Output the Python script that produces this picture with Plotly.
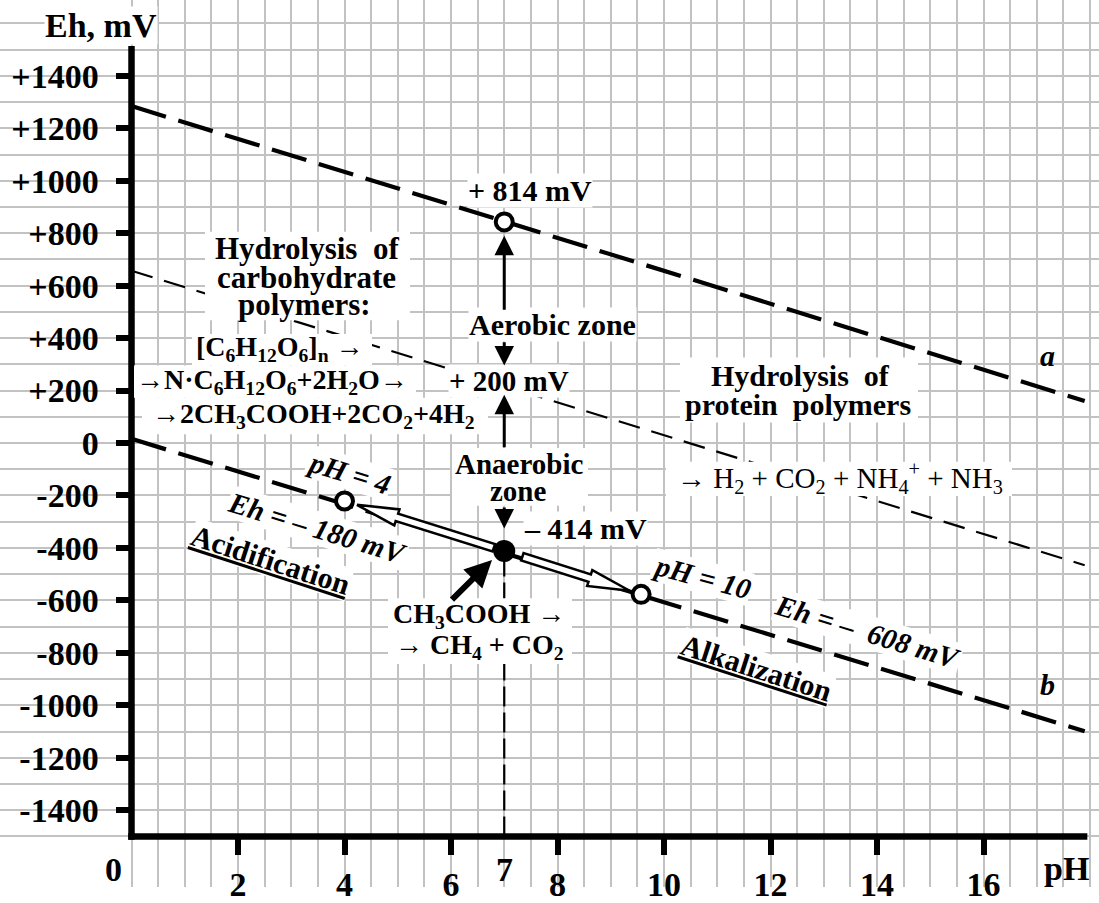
import math
import plotly.graph_objects as go

# ---------------- data ----------------
ph_line_a = [0.0, 17.9]
eh_line_a = [1285, 160]
ph_line_mid = [0.0, 17.9]
eh_line_mid = [657, -466]
ph_line_b = [0.0, 17.9]
eh_line_b = [16, -1099]

ph_open = [7.0, 4.0, 9.57]
eh_open = [843, -221, -577]
ph_filled = [7.0]
eh_filled = [-412]

# vertical zone arrows at pH 7: tail / head (mV)
zone_arrow_tail = [502, 390, -22, -240]
zone_arrow_head = [790, 296, 184, -326]
# CH3COOH -> CH4 arrow (tail, head)
ch3_arrow_ph = [5.99, 6.77]
ch3_arrow_eh = [-603, -446]

x_tick_vals = [2, 4, 6, 8, 10, 12, 14, 16]
x_tick_text = ["2", "4", "6", "8", "10", "12", "14", "16"]
y_tick_vals = [1400, 1200, 1000, 800, 600, 400, 200, 0,
               -200, -400, -600, -800, -1000, -1200, -1400]
y_tick_text = ["+1400", "+1200", "+1000", "+800", "+600", "+400", "+200", "0",
               "-200", "-400", "-600", "-800", "-1000", "-1200", "-1400"]
x_grid_vals = [i * 0.5 for i in range(0, 37)]
y_grid_vals = [i * 100 for i in range(-15, 17)]

# ---------------- geometry of the page ----------------
W, H = 1099, 903
PX0, PXU = 131.5, 53.25      # pixel of pH 0, pixels per pH unit
PY0, PYU = 451.0, 0.267      # pixel of 0 mV, pixels per mV
XR = [-PX0 / PXU, (W - PX0) / PXU]
YR = [-(H - PY0) / PYU, PY0 / PYU]
FONT = "Liberation Serif"
GRID = "#c2c2c2"


def to_px(x, y):
    return PX0 + x * PXU, PY0 - y * PYU


def to_data(px, py):
    return (px - PX0) / PXU, (PY0 - py) / PYU


def hollow_arrow(x0, y0, x1, y1, gap0, gap1, head_len=42, head_hw=8.5, shaft_hw=4.0):
    X0, Y0 = to_px(x0, y0)
    X1, Y1 = to_px(x1, y1)
    L = math.hypot(X1 - X0, Y1 - Y0)
    ux, uy = (X1 - X0) / L, (Y1 - Y0) / L
    nx, ny = -uy, ux
    S = (X0 + ux * gap0, Y0 + uy * gap0)
    T = (X1 - ux * gap1, Y1 - uy * gap1)
    B = (T[0] - ux * head_len, T[1] - uy * head_len)
    pts = [T,
           (B[0] + nx * head_hw, B[1] + ny * head_hw),
           (B[0] + nx * shaft_hw, B[1] + ny * shaft_hw),
           (S[0] + nx * shaft_hw, S[1] + ny * shaft_hw),
           (S[0] - nx * shaft_hw, S[1] - ny * shaft_hw),
           (B[0] - nx * shaft_hw, B[1] - ny * shaft_hw),
           (B[0] - nx * head_hw, B[1] - ny * head_hw),
           T]
    xs, ys = zip(*[to_data(p[0], p[1]) for p in pts])
    return list(xs), list(ys)


fig = go.Figure()

# lines a, middle, b
fig.add_trace(go.Scatter(x=ph_line_a, y=eh_line_a, mode="lines",
                         line=dict(color="black", width=4.2, dash="36px,13px"), hoverinfo="skip"))
fig.add_trace(go.Scatter(x=ph_line_mid, y=eh_line_mid, mode="lines",
                         line=dict(color="black", width=2.2, dash="22px,12px"), hoverinfo="skip"))
fig.add_trace(go.Scatter(x=ph_line_b, y=eh_line_b, mode="lines",
                         line=dict(color="black", width=4.2, dash="36px,13px"), hoverinfo="skip"))
# vertical dashed line at pH 7
fig.add_trace(go.Scatter(x=[ph_filled[0], ph_filled[0]], y=[-1500, eh_filled[0]], mode="lines",
                         line=dict(color="black", width=2.2, dash="20px,6px"), hoverinfo="skip"))

# hollow arrows from the filled point to pH 4 and pH 10 points
for i, (g0, g1) in zip([1, 2], [(11, 13), (19, 12)]):
    hx, hy = hollow_arrow(ph_filled[0], eh_filled[0], ph_open[i], eh_open[i], g0, g1)
    fig.add_trace(go.Scatter(x=hx, y=hy, mode="lines", fill="toself", fillcolor="white",
                             line=dict(color="black", width=2.5), hoverinfo="skip"))

# points
fig.add_trace(go.Scatter(x=ph_open, y=eh_open, mode="markers",
                         marker=dict(size=17, color="white", line=dict(color="black", width=4)),
                         hoverinfo="skip"))
fig.add_trace(go.Scatter(x=ph_filled, y=eh_filled, mode="markers",
                         marker=dict(size=22, color="black"), hoverinfo="skip"))


# ---------------- shapes: cover grid outside axes, axis lines, text boxes ----------------
def bgbox(x0, x1, y0, y1):
    return dict(type="rect", xref="paper", yref="paper", x0=x0 / W, x1=x1 / W,
                y0=1 - y1 / H, y1=1 - y0 / H, fillcolor="white", line=dict(width=0),
                layer="above")


shapes = [
    dict(type="rect", xref="x", yref="paper", x0=XR[0], x1=0, y0=0, y1=1,
         fillcolor="white", line=dict(width=0), layer="between"),
    dict(type="rect", xref="x", yref="paper", x0=18.04, x1=XR[1], y0=0, y1=1,
         fillcolor="white", line=dict(width=0), layer="between"),
    dict(type="line", xref="x", yref="y", x0=0, x1=0, y0=-1500 - 3.3 / PYU, y1=1514,
         line=dict(color="black", width=6.5), layer="between"),
    dict(type="line", xref="x", yref="y", x0=-3.3 / PXU, x1=17.95, y0=-1500, y1=-1500,
         line=dict(color="black", width=6.5), layer="between"),
    # white boxes behind multi-line texts
    bgbox(205, 410, 236, 326),
    bgbox(192, 372, 340, 372),
    bgbox(134, 416, 372, 405),
    bgbox(142, 488, 405, 442),
    bgbox(452, 588, 456, 515),
    bgbox(388, 572, 609, 676),
    bgbox(680, 918, 364, 430),
    bgbox(666, 1012, 470, 505),
]


# ---------------- annotations ----------------
def label(text, px, py, size=30, bold=True, italic=False, angle=0, bg=True):
    t = "<i>" + text + "</i>" if italic else text
    d = dict(text=t, xref="paper", yref="paper", x=px / W, y=1 - py / H,
             xanchor="center", yanchor="middle", showarrow=False, textangle=angle,
             font=dict(family=FONT, size=size, color="black",
                       weight="bold" if bold else "normal"),
             borderpad=0)
    if bg:
        d["bgcolor"] = "white"
    return d


NB = "\u00a0"
ann = [
    label("Eh, mV", 101, 26, size=34),
    label("0", 113, 885, size=34, bg=False),
    label("7", 504, 885, size=34, bg=False),
    label("pH", 1066, 884, size=34, bg=False),
    label("+ 814 mV", 530, 194, size=30),
    label("Hydrolysis" + NB + NB + "of", 307, 253, size=31, bg=False),
    label("carbohydrate", 306, 282, size=31, bg=False),
    label("polymers:", 304, 310, size=31, bg=False),
    label("[C<sub>6</sub>H<sub>12</sub>O<sub>6</sub>]<sub>n</sub> →", 280, 355, size=28, bg=False),
    label("→N·C<sub>6</sub>H<sub>12</sub>O<sub>6</sub>+2H<sub>2</sub>O→", 272, 388, size=28, bg=False),
    label("→2CH<sub>3</sub>COOH+2CO<sub>2</sub>+4H<sub>2</sub>", 313, 423, size=28, bg=False),
    label("Aerobic" + NB + "zone", 552, 330, size=30),
    label("+ 200 mV", 509, 388, size=29),
    label("Anaerobic", 519, 472, size=29, bg=False),
    label("zone", 518, 500, size=29, bg=False),
    label("– 414 mV", 585, 538, size=30),
    label("CH<sub>3</sub>COOH →", 479, 627, size=28, bg=False),
    label("→ CH<sub>4</sub> + CO<sub>2</sub>", 479, 658, size=28, bg=False),
    label("Hydrolysis" + NB + NB + "of", 800, 382, size=30, bg=False),
    label("protein" + NB + NB + "polymers", 798, 412, size=30, bg=False),
    label("→ H<sub>2</sub> + CO<sub>2</sub> + NH<sub>4</sub><sup>+</sup> + NH<sub>3</sub>", 840, 487,
          size=29, bold=False, bg=False),
    label("a", 1047, 362, size=30, italic=True, bg=False),
    label("b", 1047, 697, size=30, italic=True, bg=False),
    label("pH = 4", 349, 482, size=29, italic=True, angle=17),
    label("Eh = – 180 mV", 317, 538, size=29, italic=True, angle=17),
    label("<u>Acidification</u>", 270, 570, size=30, angle=18),
    label("pH = 10", 702, 587, size=29, italic=True, angle=15),
    label("Eh = –" + NB + " 608 mV", 868, 643, size=29, italic=True, angle=17),
    label("<u>Alkalization</u>", 756, 680, size=30, angle=18),
]

for tail, head in zip(zone_arrow_tail, zone_arrow_head):
    ann.append(dict(x=ph_filled[0], y=head, ax=ph_filled[0], ay=tail,
                    xref="x", yref="y", axref="x", ayref="y", text="", showarrow=True,
                    arrowhead=2, arrowsize=1.3, arrowwidth=3, arrowcolor="black",
                    standoff=0, startstandoff=0))
ann.append(dict(x=ch3_arrow_ph[1], y=ch3_arrow_eh[1], ax=ch3_arrow_ph[0], ay=ch3_arrow_eh[0],
                xref="x", yref="y", axref="x", ayref="y", text="", showarrow=True,
                arrowhead=2, arrowsize=0.9, arrowwidth=6, arrowcolor="black",
                standoff=0, startstandoff=0))

fig.update_layout(
    width=W, height=H, autosize=False, margin=dict(l=0, r=0, t=0, b=0),
    paper_bgcolor="white", plot_bgcolor="white", showlegend=False,
    shapes=shapes, annotations=ann,
    xaxis=dict(range=XR, tickmode="array", tickvals=x_tick_vals, ticktext=x_tick_text,
               ticks="outside", ticklen=18, tickwidth=6, tickcolor="black",
               showgrid=True, gridcolor=GRID, gridwidth=1.5,
               minor=dict(tickmode="array", tickvals=x_grid_vals, showgrid=True,
                          gridcolor=GRID, gridwidth=1.5, ticks=""),
               zeroline=False, showline=False, anchor="free", position=(H - 851.3) / H,
               tickfont=dict(family=FONT, size=34, color="black", weight="bold"),
               fixedrange=True),
    yaxis=dict(range=YR, tickmode="array", tickvals=y_tick_vals, ticktext=y_tick_text,
               ticks="outside", ticklen=16, tickwidth=6, tickcolor="black",
               ticklabelstandoff=10,
               showgrid=True, gridcolor=GRID, gridwidth=1.5,
               minor=dict(tickmode="array", tickvals=y_grid_vals, showgrid=True,
                          gridcolor=GRID, gridwidth=1.5, ticks=""),
               zeroline=False, showline=False, anchor="free", position=PX0 / W,
               tickfont=dict(family=FONT, size=34, color="black", weight="bold"),
               fixedrange=True),
)

fig.write_html(
    "out.html",
    config={"displayModeBar": False, "responsive": False},
    post_script=("document.documentElement.style.margin='0px';"
                 "document.body.style.margin='0px';"
                 "document.documentElement.style.overflow='hidden';"
                 "document.body.style.overflow='hidden';"),
)
